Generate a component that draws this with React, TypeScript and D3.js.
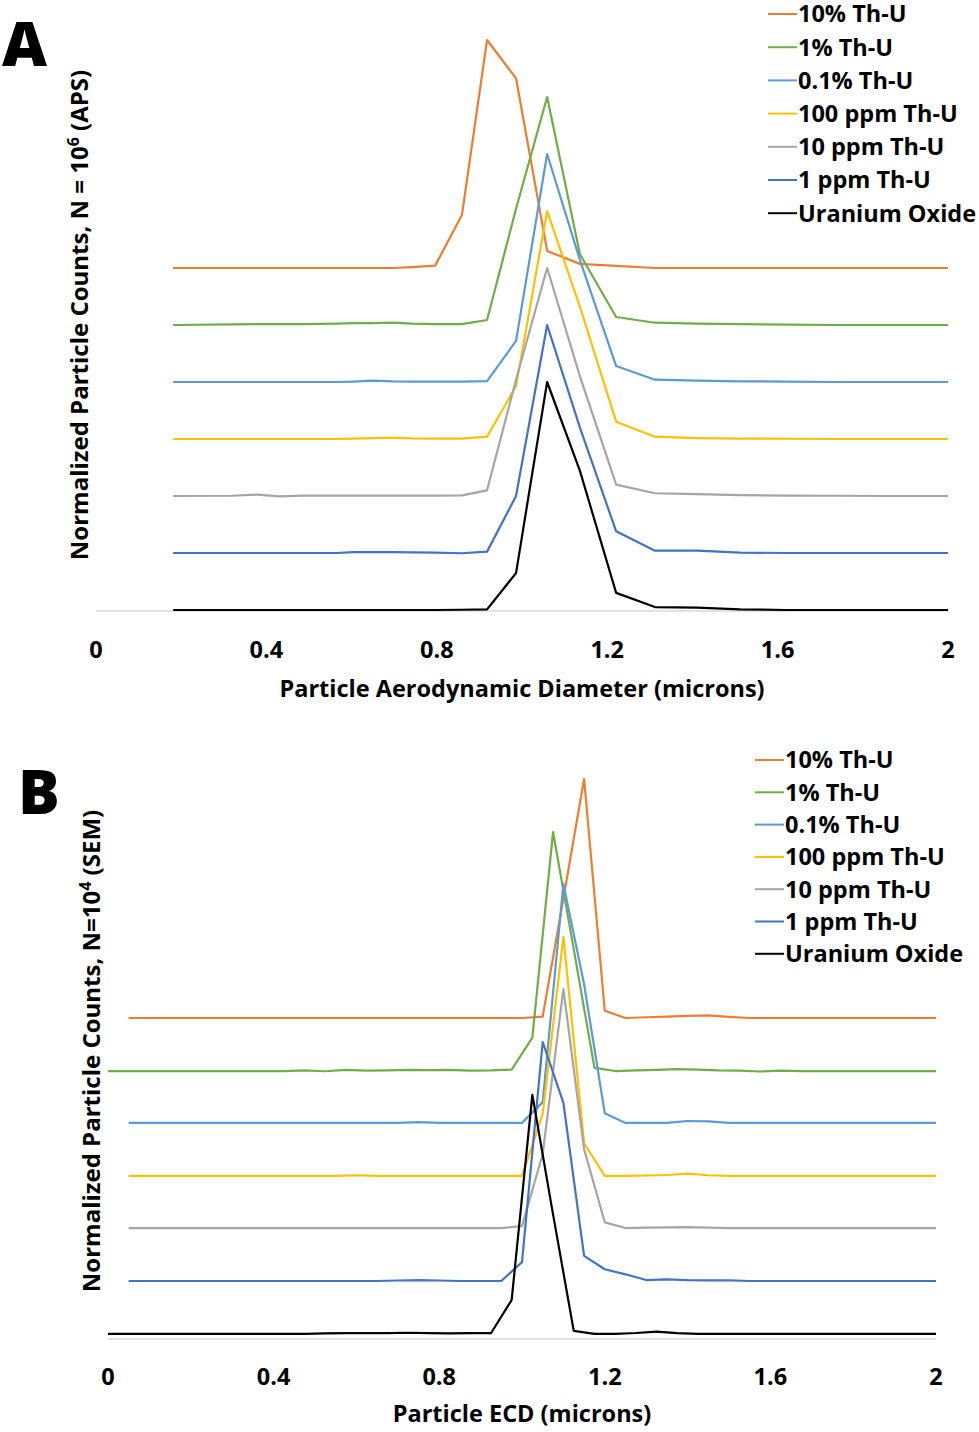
import React from "react";
import * as d3 from "d3";

// ---------- Panel A (APS) ----------
const xA = [0.181, 0.319, 0.378, 0.432, 0.486, 0.566, 0.603, 0.650, 0.697, 0.742, 0.796, 0.859, 0.918, 0.986, 1.059, 1.136, 1.221, 1.312, 1.411, 1.512, 1.62, 1.74, 1.86, 2.0];
const orangeA = [0, 0, 0, 0, 0, 0, 0, 0, 0, 0.004, 0.01, 0.232, 1.0, 0.832, 0.075, 0.018, 0.009, 0, 0, 0, 0, 0, 0, 0];
const greenA = [0, 0.003, 0.004, 0.004, 0.004, 0.006, 0.008, 0.008, 0.01, 0.006, 0.004, 0.004, 0.022, 0.51, 1.0, 0.31, 0.035, 0.01, 0.006, 0.004, 0.002, 0, 0, 0];
const lblueA = [0, 0, 0, 0, 0, 0, 0.002, 0.006, 0.003, 0.002, 0.002, 0.002, 0.004, 0.18, 1.0, 0.535, 0.07, 0.01, 0.006, 0.003, 0.002, 0, 0, 0];
const yellowA = [0, 0, 0, 0, 0, 0, 0.002, 0.004, 0.006, 0.003, 0.002, 0.002, 0.01, 0.232, 1.0, 0.58, 0.076, 0.01, 0.004, 0.002, 0.001, 0, 0, 0];
const grayA = [0, 0.001, 0.006, -0.002, 0.002, 0.002, 0.002, 0.002, 0.002, 0.002, 0.002, 0.003, 0.025, 0.51, 1.0, 0.525, 0.05, 0.012, 0.008, 0.004, 0.002, 0.001, 0, 0];
const blueA = [0, 0, 0, 0, 0, 0, 0.004, 0.004, 0.004, 0.003, 0.002, -0.001, 0.006, 0.25, 1.0, 0.55, 0.095, 0.01, 0.01, 0.002, 0, 0, 0, 0];
const blackA = [0, 0, 0, 0, 0, 0, 0, 0, 0, 0, 0, 0.001, 0.003, 0.162, 1.0, 0.61, 0.075, 0.013, 0.01, 0.003, 0, 0, 0, 0];

// ---------- Panel B (SEM) ----------
const xB = [0.05, 0.1, 0.15, 0.2, 0.25, 0.3, 0.35, 0.4, 0.45, 0.5, 0.55, 0.6, 0.65, 0.7, 0.75, 0.8, 0.85, 0.9, 0.95, 1.0,
  1.05, 1.1, 1.15, 1.2, 1.25, 1.3, 1.35, 1.4, 1.45, 1.5, 1.55, 1.6, 1.65, 1.7, 1.75, 1.8, 1.85, 1.9, 1.95, 2.0];
const xB2 = [0, 0.075, 0.125, 0.175, 0.225, 0.275, 0.325, 0.375, 0.425, 0.475, 0.525, 0.575, 0.625, 0.675, 0.725, 0.775, 0.825, 0.875, 0.925, 0.975,
  1.025, 1.075, 1.125, 1.175, 1.225, 1.275, 1.325, 1.375, 1.425, 1.475, 1.525, 1.575, 1.625, 1.675, 1.725, 1.775, 1.825, 1.875, 1.925, 1.975, 2.0];
const orangeB = [0, 0, 0, 0, 0, 0, 0, 0, 0, 0, 0, 0, 0, 0, 0, 0, 0, 0, 0, 0,
  0.006, 0.5, 1.0, 0.03, 0, 0.003, 0.006, 0.009, 0.011, 0.005, 0, 0, 0, 0, 0, 0, 0, 0, 0, 0];
const greenB = [0, 0, 0, 0, 0, 0, 0, 0, 0, 0.003, -0.001, 0.005, 0.002, 0.003, 0.005, 0.004, 0.005, 0.002, 0.003, 0.006,
  0.14, 1.0, 0.51, 0.013, 0, 0.003, 0.005, 0.008, 0.006, 0.003, 0.002, -0.002, 0.002, 0, 0, 0, 0, 0, 0, 0, 0];
const lblueB = [0, 0, 0, 0, 0, 0, 0, 0, 0, 0, 0, 0, 0, 0, 0.003, 0, 0, 0, 0, 0,
  0.087, 1.0, 0.58, 0.04, 0, 0, 0, 0.008, 0.006, 0, 0, 0, 0, 0, 0, 0, 0, 0, 0, 0];
const yellowB = [0, 0, 0, 0, 0, 0, 0, 0, 0, 0, 0, 0.003, 0, 0, 0, 0, 0, 0, 0, 0,
  0.26, 1.0, 0.137, 0, 0, 0.002, 0.004, 0.01, 0.003, 0, 0, 0, 0, 0, 0, 0, 0, 0, 0, 0];
const grayB = [0, 0, 0, 0, 0, 0, 0, 0, 0, 0, 0, 0, 0, 0, 0, 0, 0, 0, 0, 0.008,
  0.31, 1.0, 0.33, 0.024, 0, 0.002, 0.003, 0.004, 0.002, 0, 0, 0, 0, 0, 0, 0, 0, 0, 0, 0];
const blueB = [0, 0, 0, 0, 0, 0, 0, 0, 0, 0, 0, 0, 0, 0.002, 0.004, 0.002, 0, 0, 0, 0.079,
  1.0, 0.745, 0.105, 0.049, 0.028, 0.004, 0.007, 0.004, 0.003, 0.003, 0, 0, 0, 0, 0, 0, 0, 0, 0, 0];
const blackB = [0, 0, 0, 0, 0, 0, 0, 0, 0, 0, 0.002, 0.003, 0.003, 0.003, 0.005, 0.003, 0.002, 0.003, 0.003, 0.142,
  1.0, 0.5, 0.013, 0, 0, 0.004, 0.01, 0.003, 0, 0, 0, 0, 0, 0, 0, 0, 0, 0, 0, 0, 0];

const seriesNames = ["10% Th-U", "1% Th-U", "0.1% Th-U", "100 ppm Th-U", "10 ppm Th-U", "1 ppm Th-U", "Uranium Oxide"];
const colors = ["#ED7D31", "#70AD47", "#5B9BD5", "#FFC000", "#A5A5A5", "#4472C4", "#000000"];
const tickValues = [0, 0.4, 0.8, 1.2, 1.6, 2];
const tickLabels = ["0", "0.4", "0.8", "1.2", "1.6", "2"];

const offsetsA = [1.5, 1.25, 1.0, 0.75, 0.5, 0.25, 0];
const offsetsB = [1.339, 1.117, 0.9, 0.678, 0.46, 0.2385, 0.017];

const FONT = "'Open Sans', 'Liberation Sans', sans-serif";

type Panel = {
  xs: number[][];
  ys: number[][];
  offsets: number[];
  x: d3.ScaleLinear<number, number>;
  y: d3.ScaleLinear<number, number>;
  tickY: number;
  titleY: number;
  xTitle: string;
  yTitleX: number;
  yTitleY: number;
  yTitle: [string, string, string];
  letter: string;
  letterX: number;
  letterY: number;
  legX: number;
  legY: number;
  legStep: number;
};

function PanelView({ p }: { p: Panel }) {
  const [x0, x1] = p.x.range();
  return (
    <g>
      <line x1={x0} x2={x1} y1={p.y(0) + 1} y2={p.y(0) + 1} stroke="#D9D9D9" strokeWidth={1.5} />
      {p.ys.map((vals, i) => {
        const xs = p.xs[i];
        const line = d3
          .line<number>()
          .x((_, k) => p.x(xs[k]))
          .y((v) => p.y(v + p.offsets[i]));
        return (
          <path key={i} d={line(vals) || ""} fill="none" stroke={colors[i]} strokeWidth={2.2} strokeLinejoin="round" />
        );
      })}
      {tickValues.map((t, i) => (
        <text key={i} x={p.x(t)} y={p.tickY} textAnchor="middle" fontFamily={FONT} fontWeight={700} fontSize={23.5} fill="#000">
          {tickLabels[i]}
        </text>
      ))}
      <text x={(x0 + x1) / 2} y={p.titleY} textAnchor="middle" fontFamily={FONT} fontWeight={700} fontSize={23.5} fill="#000">
        {p.xTitle}
      </text>
      <text
        transform={`translate(${p.yTitleX},${p.yTitleY}) rotate(-90)`}
        textAnchor="middle"
        fontFamily={FONT}
        fontWeight={700}
        fontSize={24}
        fill="#000"
      >
        {p.yTitle[0]}
        <tspan dy={-9} fontSize={16}>{p.yTitle[1]}</tspan>
        <tspan dy={9}>{p.yTitle[2]}</tspan>
      </text>
      <text x={p.letterX} y={p.letterY} fontFamily={FONT} fontWeight={800} fontSize={62} fill="#000">
        {p.letter}
      </text>
      {seriesNames.map((name, i) => {
        const cy = p.legY + i * p.legStep;
        return (
          <g key={name}>
            <line x1={p.legX} x2={p.legX + 29} y1={cy} y2={cy} stroke={colors[i]} strokeWidth={2} />
            <text x={p.legX + 30} y={cy + 8.4} fontFamily={FONT} fontWeight={700} fontSize={23.5} fill="#000">
              {name}
            </text>
          </g>
        );
      })}
    </g>
  );
}

export default function App() {
  const panelA: Panel = {
    xs: [xA, xA, xA, xA, xA, xA, xA],
    ys: [orangeA, greenA, lblueA, yellowA, grayA, blueA, blackA],
    offsets: offsetsA,
    x: d3.scaleLinear().domain([0, 2]).range([96, 948]),
    y: d3.scaleLinear().domain([0, 2.5]).range([610, 40]),
    tickY: 657.5,
    titleY: 697,
    xTitle: "Particle Aerodynamic Diameter (microns)",
    yTitleX: 88,
    yTitleY: 315,
    yTitle: ["Normalized Particle Counts, N = 10", "6", " (APS)"],
    letter: "A",
    letterX: 2,
    letterY: 66,
    legX: 768,
    legY: 14,
    legStep: 33.2,
  };
  const panelB: Panel = {
    xs: [xB, xB2, xB, xB, xB, xB, xB2],
    ys: [orangeB, greenB, lblueB, yellowB, grayB, blueB, blackB],
    offsets: offsetsB,
    x: d3.scaleLinear().domain([0, 2]).range([108, 936]),
    y: d3.scaleLinear().domain([0, 1]).range([1338, 1099]),
    tickY: 1384.5,
    titleY: 1422,
    xTitle: "Particle ECD (microns)",
    yTitleX: 100,
    yTitleY: 1051,
    yTitle: ["Normalized Particle Counts, N=10", "4", " (SEM)"],
    letter: "B",
    letterX: 18,
    letterY: 814,
    legX: 755,
    legY: 760,
    legStep: 32.3,
  };
  return (
    <svg width={979} height={1432} style={{ position: "absolute", left: 0, top: 0, background: "#fff" }}>
      <rect width={979} height={1432} fill="#fff" />
      <PanelView p={panelA} />
      <PanelView p={panelB} />
    </svg>
  );
}
